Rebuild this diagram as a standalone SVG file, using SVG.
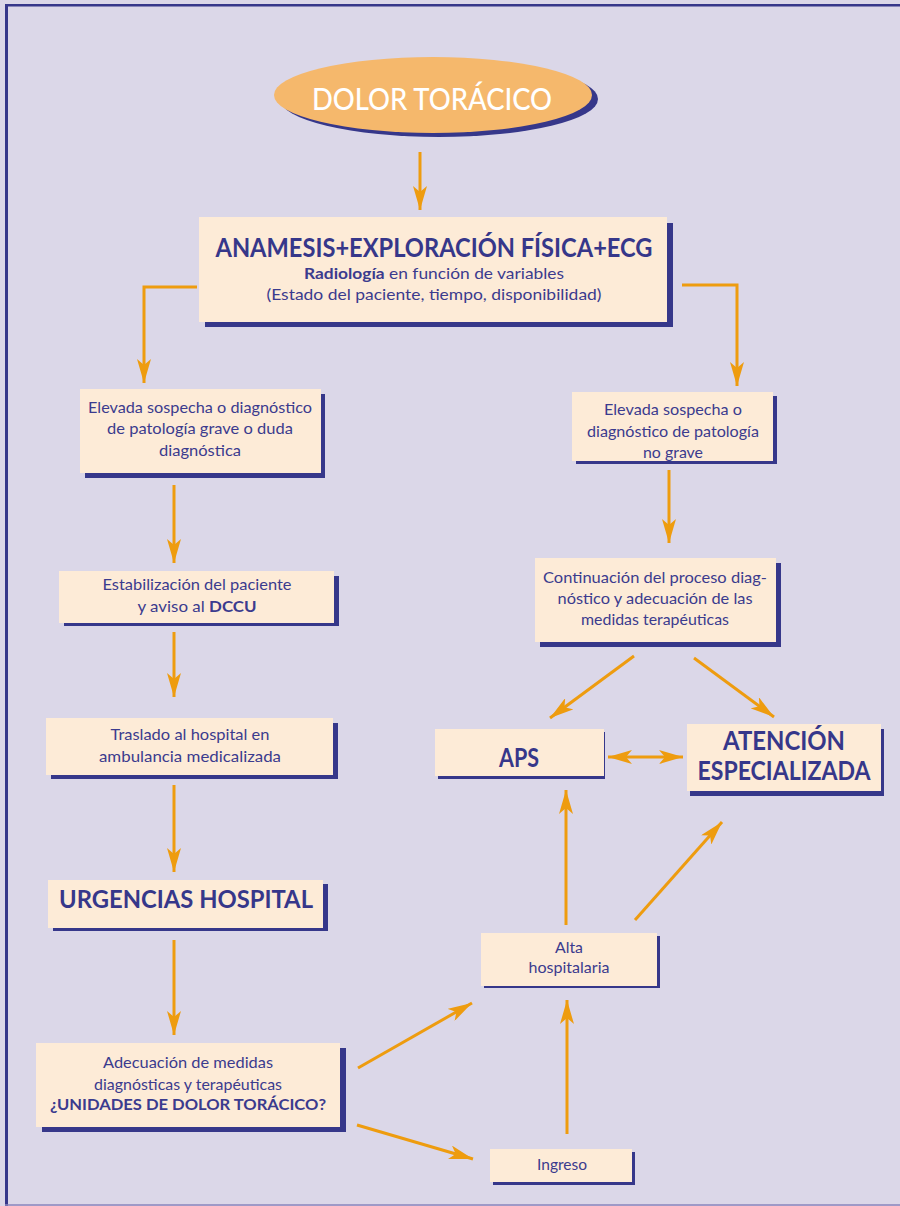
<svg xmlns="http://www.w3.org/2000/svg" width="900" height="1206" viewBox="0 0 900 1206">
<style>
.sh{fill:#36378A}
.bx{fill:#FDEBD7}
.t{font-family:Lato,"Liberation Sans",sans-serif;font-size:16px;fill:#3B3B8E;text-anchor:middle}
.b{font-weight:bold}
.big{font-family:Lato,"Liberation Sans",sans-serif;font-weight:bold;fill:#36378A;text-anchor:middle}
.c{fill:none;stroke:#EE9C0F;stroke-width:3}
</style>
<defs>
<marker id="ah" viewBox="0 0 24 14" refX="24" refY="7" markerWidth="24" markerHeight="14" markerUnits="userSpaceOnUse" orient="auto-start-reverse">
<path d="M0,0 L24,7 L0,14 L6,7 z" fill="#EE9C0F"/>
</marker>
</defs>
<rect width="900" height="1206" fill="#DBD7E8"/>
<rect x="5" y="4" width="895" height="2.5" fill="#36378A"/>
<rect x="5" y="4" width="3" height="1202" fill="#36378A"/>
<line x1="5" y1="1205" x2="900" y2="1205" stroke="#8A84BC" stroke-width="1.5"/>

<g id="connectors">
<path class="c" d="M420,152 V210" marker-end="url(#ah)"/>
<path class="c" d="M197,287 H144 V383" marker-end="url(#ah)"/>
<path class="c" d="M682,285 H737 V386" marker-end="url(#ah)"/>
<path class="c" d="M174,485 V563" marker-end="url(#ah)"/>
<path class="c" d="M669,470 V543" marker-end="url(#ah)"/>
<path class="c" d="M174,632 V697" marker-end="url(#ah)"/>
<path class="c" d="M174,785 V872" marker-end="url(#ah)"/>
<path class="c" d="M174,940 V1035" marker-end="url(#ah)"/>
<path class="c" d="M634,656 L550,718" marker-end="url(#ah)"/>
<path class="c" d="M694,658 L774,717" marker-end="url(#ah)"/>
<path class="c" d="M608,757 L683,757" marker-start="url(#ah)" marker-end="url(#ah)"/>
<path class="c" d="M566,925 V790" marker-end="url(#ah)"/>
<path class="c" d="M635,920 L722,822" marker-end="url(#ah)"/>
<path class="c" d="M567,1134 V1000" marker-end="url(#ah)"/>
<path class="c" d="M358,1068 L472,1003" marker-end="url(#ah)"/>
<path class="c" d="M357,1125 L473,1159" marker-end="url(#ah)"/>
</g>

<g id="dolor">
<ellipse cx="439" cy="99" rx="159" ry="38" fill="#36378A"/>
<ellipse cx="433" cy="95" rx="159" ry="38" fill="#F5B86C"/>
<text x="432" y="110" font-family="Lato,'Liberation Sans',sans-serif" font-size="30" font-weight="500" fill="#FFFFFF" text-anchor="middle" textLength="240" lengthAdjust="spacingAndGlyphs">DOLOR TORÁCICO</text>
</g>

<g id="anamesis">
<rect class="sh" x="205" y="223" width="468" height="104"/>
<rect class="bx" x="199" y="217" width="468" height="105"/>
<text class="big" x="434" y="257" font-size="27" textLength="437" lengthAdjust="spacingAndGlyphs">ANAMESIS+EXPLORACIÓN FÍSICA+ECG</text>
<text class="t" x="434" y="279" font-size="16.5" textLength="260" lengthAdjust="spacingAndGlyphs"><tspan class="b">Radiología</tspan> en función de variables</text>
<text class="t" x="434" y="300" font-size="16.5" textLength="335" lengthAdjust="spacingAndGlyphs">(Estado del paciente, tiempo, disponibilidad)</text>
</g>

<g id="grave">
<rect class="sh" x="85" y="394" width="240" height="84"/>
<rect class="bx" x="80" y="389" width="241" height="84"/>
<text class="t" x="200" y="413" textLength="224" lengthAdjust="spacingAndGlyphs">Elevada sospecha o diagnóstico</text>
<text class="t" x="200" y="434" textLength="186" lengthAdjust="spacingAndGlyphs">de patología grave o duda</text>
<text class="t" x="200" y="456" textLength="82" lengthAdjust="spacingAndGlyphs">diagnóstica</text>
</g>

<g id="nograve">
<rect class="sh" x="576" y="396" width="201" height="68"/>
<rect class="bx" x="572" y="392" width="201" height="69"/>
<text class="t" x="673" y="415" textLength="138" lengthAdjust="spacingAndGlyphs">Elevada sospecha o</text>
<text class="t" x="673" y="437" textLength="172" lengthAdjust="spacingAndGlyphs">diagnóstico de patología</text>
<text class="t" x="673" y="458" textLength="60" lengthAdjust="spacingAndGlyphs">no grave</text>
</g>

<g id="estabilizacion">
<rect class="sh" x="64" y="576" width="275" height="50"/>
<rect class="bx" x="59" y="571" width="275" height="52"/>
<text class="t" x="197" y="590" textLength="189" lengthAdjust="spacingAndGlyphs">Estabilización del paciente</text>
<text class="t" x="197" y="612" textLength="119" lengthAdjust="spacingAndGlyphs">y aviso al <tspan class="b">DCCU</tspan></text>
</g>

<g id="traslado">
<rect class="sh" x="51" y="723" width="287" height="56"/>
<rect class="bx" x="46" y="718" width="287" height="57"/>
<text class="t" x="190" y="740" textLength="159" lengthAdjust="spacingAndGlyphs">Traslado al hospital en</text>
<text class="t" x="190" y="762" textLength="182" lengthAdjust="spacingAndGlyphs">ambulancia medicalizada</text>
</g>

<g id="urgencias">
<rect class="sh" x="53" y="884" width="275" height="47"/>
<rect class="bx" x="48" y="880" width="275" height="48"/>
<text class="big" x="186" y="908" font-size="25" textLength="254" lengthAdjust="spacingAndGlyphs">URGENCIAS HOSPITAL</text>
</g>

<g id="adecuacion">
<rect class="sh" x="42" y="1048" width="304" height="84"/>
<rect class="bx" x="36" y="1043" width="304" height="84"/>
<text class="t" x="188" y="1068" textLength="170" lengthAdjust="spacingAndGlyphs">Adecuación de medidas</text>
<text class="t" x="188" y="1090" textLength="188" lengthAdjust="spacingAndGlyphs">diagnósticas y terapéuticas</text>
<text class="t b" x="188" y="1110" textLength="276" lengthAdjust="spacingAndGlyphs">¿UNIDADES DE DOLOR TORÁCICO?</text>
</g>

<g id="continuacion">
<rect class="sh" x="540" y="563" width="241" height="84"/>
<rect class="bx" x="535" y="558" width="241" height="84"/>
<text class="t" x="655" y="583" textLength="224" lengthAdjust="spacingAndGlyphs">Continuación del proceso diag-</text>
<text class="t" x="655" y="604" textLength="195" lengthAdjust="spacingAndGlyphs">nóstico y adecuación de las</text>
<text class="t" x="655" y="625" textLength="148" lengthAdjust="spacingAndGlyphs">medidas terapéuticas</text>
</g>

<g id="aps">
<rect class="sh" x="438" y="732" width="167" height="47"/>
<rect class="bx" x="435" y="729" width="169" height="47"/>
<text class="big" x="519" y="767" font-size="26" textLength="40" lengthAdjust="spacingAndGlyphs">APS</text>
</g>

<g id="atencion">
<rect class="sh" x="690" y="729" width="194" height="67"/>
<rect class="bx" x="687" y="724" width="194" height="67"/>
<text class="big" x="784" y="750" font-size="26" textLength="122" lengthAdjust="spacingAndGlyphs">ATENCIÓN</text>
<text class="big" x="784" y="780" font-size="26" textLength="173" lengthAdjust="spacingAndGlyphs">ESPECIALIZADA</text>
</g>

<g id="alta">
<rect class="sh" x="484" y="936" width="176" height="52"/>
<rect class="bx" x="481" y="933" width="176" height="53"/>
<text class="t" x="569" y="953" textLength="28" lengthAdjust="spacingAndGlyphs">Alta</text>
<text class="t" x="569" y="973" textLength="81" lengthAdjust="spacingAndGlyphs">hospitalaria</text>
</g>

<g id="ingreso">
<rect class="sh" x="493" y="1152" width="142" height="33"/>
<rect class="bx" x="490" y="1149" width="142" height="33"/>
<text class="t" x="562" y="1170" textLength="50" lengthAdjust="spacingAndGlyphs">Ingreso</text>
</g>
</svg>
